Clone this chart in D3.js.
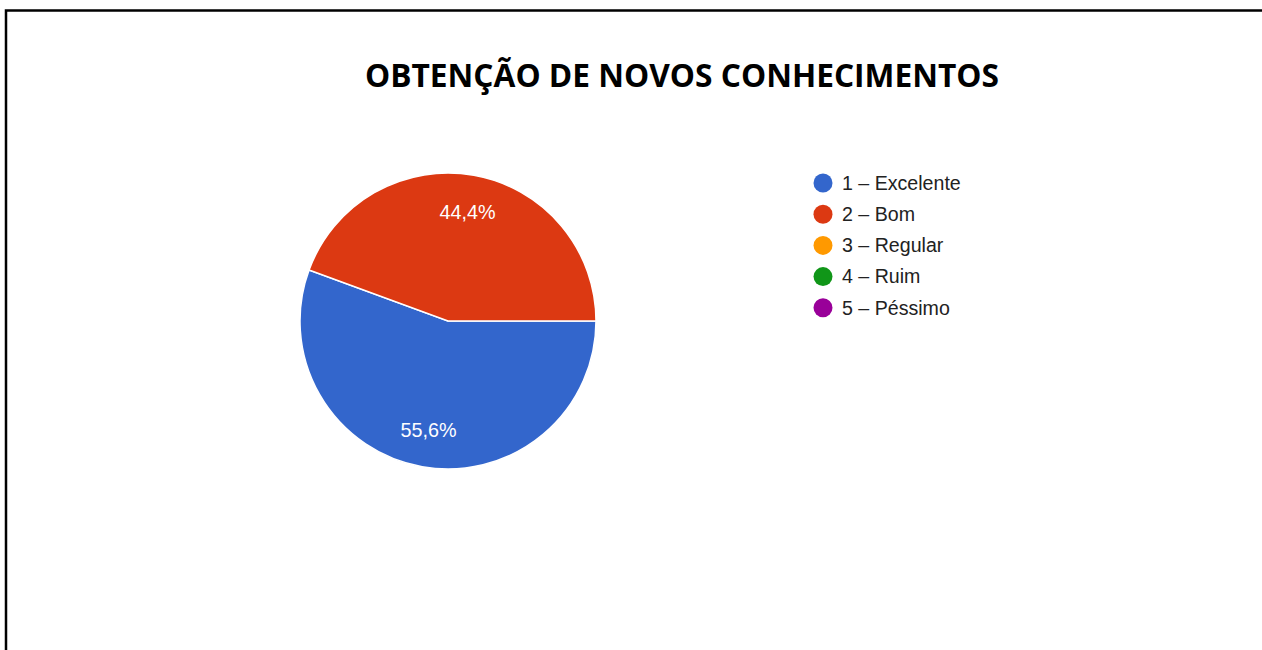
<!DOCTYPE html>
<meta charset="utf-8">
<style>
  body { margin: 0; background: #fff; }
</style>
<script src="https://cdn.jsdelivr.net/npm/d3@7"></script>
<body>
</body>
<script>

// chart data
var title = "OBTENÇÃO DE NOVOS CONHECIMENTOS";
var categories = ["1 – Excelente", "2 – Bom", "3 – Regular", "4 – Ruim", "5 – Péssimo"];
var values = [55.6, 44.4, 0, 0, 0];
var labels = ["55,6%", "44,4%", "", "", ""];
var colors = ["#3366cc", "#dc3912", "#ff9900", "#109618", "#990099"];

const width = 1262, height = 650;

var svg = d3.select("body").append("svg")
  .attr("width", width)
  .attr("height", height);

// frame (top + left lines)
svg.append("path")
  .attr("d", "M6,650 V10.5 H1262")
  .attr("fill", "none")
  .attr("stroke", "#000")
  .attr("stroke-width", 2.5);

svg.append("text")
  .attr("x", 682)
  .attr("y", 87)
  .attr("text-anchor", "middle")
  .attr("font-family", "'Open Sans', sans-serif")
  .attr("font-weight", "bold")
  .attr("font-size", 32.5)
  .attr("textLength", 634)
  .attr("lengthAdjust", "spacingAndGlyphs")
  .attr("fill", "#000")
  .text(title);

var cx = 448, cy = 321, r = 148;

var data = categories.map((c, i) => ({ cat: c, value: values[i], label: labels[i], color: colors[i] }));

var pie = d3.pie()
  .sort(null)
  .value(d => d.value)
  .startAngle(Math.PI / 2)
  .endAngle(Math.PI / 2 + 2 * Math.PI);

var arc = d3.arc().innerRadius(0).outerRadius(r);
var labelArc = d3.arc().innerRadius(r * 0.75).outerRadius(r * 0.75);

var g = svg.append("g").attr("transform", `translate(${cx},${cy})`);
var arcs = pie(data).filter(d => d.data.value > 0);

g.selectAll("path.slice")
  .data(arcs)
  .enter()
  .append("path")
    .attr("class", "slice")
    .attr("d", arc)
    .attr("fill", d => d.data.color)
    .attr("stroke", "#fff")
    .attr("stroke-width", 1.5);

g.selectAll("text.pct")
  .data(arcs)
  .enter()
  .append("text")
    .attr("class", "pct")
    .attr("transform", d => `translate(${labelArc.centroid(d)})`)
    .attr("text-anchor", "middle")
    .attr("dy", "0.35em")
    .attr("font-family", "'Liberation Sans', Arial, sans-serif")
    .attr("font-size", 19.8)
    .attr("fill", "#fff")
    .text(d => d.data.label);

// legend
var legend = svg.append("g").attr("transform", "translate(823,183)");
var li = legend.selectAll("g")
  .data(data)
  .enter()
  .append("g")
    .attr("transform", (d, i) => `translate(0,${i * 31.2})`);

li.append("circle")
  .attr("r", 9.5)
  .attr("fill", d => d.color);

li.append("text")
  .attr("x", 19)
  .attr("dy", "0.35em")
  .attr("font-family", "'Liberation Sans', Arial, sans-serif")
  .attr("font-size", 19.6)
  .attr("fill", "#222")
  .text(d => d.cat);

</script>
